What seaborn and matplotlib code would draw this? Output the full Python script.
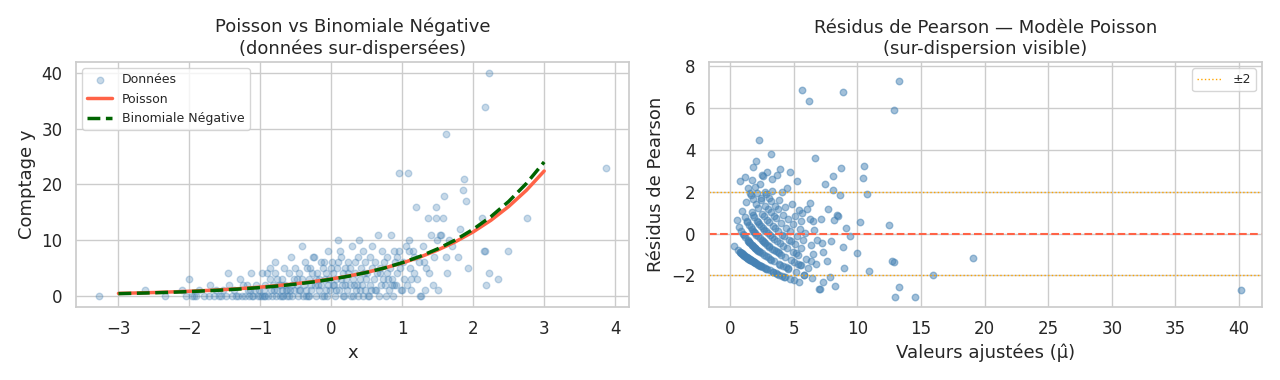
import numpy as np
import matplotlib
matplotlib.use("Agg")
import matplotlib.pyplot as plt
import seaborn as sns
import pandas as pd

x_obs = [-3.27, -2.62, -2.35, -2.11, -2.05, -2.01,
         -1.96, -1.93, -1.90, -1.86, -1.80,
         -1.72, -1.71, -1.66, -1.62, -1.58, -1.55, -1.52,
         -1.48, -1.45, -1.44, -1.40, -1.37, -1.35, -1.31, -1.28, -1.26,
         -1.24, -1.21, -1.19, -1.18, -1.16, -1.13, -1.12, -1.10, -1.08, -1.06, -1.04, -1.02, -1.01,
         -0.98, -0.97, -0.95, -0.94, -0.93, -0.90, -0.89, -0.87, -0.86, -0.85, -0.84, -0.82, -0.81, -0.80, -0.79, -0.78, -0.77, -0.76,
         -0.74, -0.72, -0.71, -0.70, -0.69, -0.68, -0.66, -0.65, -0.64, -0.63, -0.62, -0.60, -0.58, -0.57, -0.56, -0.55, -0.53, -0.52, -0.51,
         -0.49, -0.48, -0.47, -0.46, -0.44, -0.42, -0.41, -0.40, -0.38, -0.37, -0.36, -0.35, -0.34, -0.32, -0.31, -0.30, -0.29, -0.28, -0.27, -0.26,
         -0.24, -0.23, -0.22, -0.21, -0.20, -0.19, -0.18, -0.17, -0.15, -0.14, -0.12, -0.11, -0.10, -0.09, -0.08, -0.07, -0.06, -0.05, -0.04, -0.03, -0.02, -0.01,
         0.01, 0.02, 0.03, 0.04, 0.05, 0.06, 0.08, 0.09, 0.10, 0.11, 0.12, 0.13, 0.14, 0.15, 0.17, 0.18, 0.19, 0.20, 0.21, 0.22, 0.23, 0.24,
         0.26, 0.27, 0.29, 0.30, 0.31, 0.32, 0.33, 0.34, 0.35, 0.37, 0.38, 0.39, 0.40, 0.42, 0.43, 0.44, 0.45, 0.46, 0.47, 0.48, 0.49,
         0.51, 0.53, 0.54, 0.55, 0.56, 0.57, 0.58, 0.60, 0.61, 0.62, 0.64, 0.66, 0.67, 0.68, 0.69, 0.70, 0.71, 0.73, 0.74,
         0.76, 0.78, 0.79, 0.80, 0.81, 0.83, 0.84, 0.86, 0.87, 0.88, 0.90, 0.91, 0.92, 0.93, 0.95, 0.95, 0.97, 0.98,
         1.01, 1.03, 1.05, 1.06, 1.08, 1.09, 1.10, 1.11, 1.13, 1.15, 1.16, 1.17, 1.19, 1.21, 1.23,
         1.27, 1.29, 1.30, 1.32, 1.33, 1.36, 1.38, 1.41, 1.43, 1.45, 1.47, 1.48, 1.49,
         1.51, 1.53, 1.55, 1.57, 1.59, 1.61, 1.61, 1.63, 1.66, 1.70,
         1.79, 1.82, 1.86, 1.87, 1.90, 1.93,
         2.13, 2.15, 2.17, 2.17, 2.18, 2.22, 2.22,
         2.35, 2.49, 2.76, 3.87,
         -0.95, -0.70, -0.45, -0.33, -0.13, 0.07, 0.16, 0.28, 0.36, 0.52,
         0.63, 0.77, 0.85, 0.99, 1.12, 1.25, -1.14, -0.59, 0.41, 0.89]
y_obs = [0, 1, 0, 1, 0, 3,
         0, 0, 0, 1, 0,
         0, 2, 0, 1, 0, 0, 1,
         0, 4, 2, 0, 1, 0, 0, 3, 0,
         2, 0, 2, 1, 0, 4, 0, 0, 1, 2, 0, 1, 0,
         4, 0, 1, 0, 2, 4, 0, 3, 5, 1, 0, 2, 1, 6, 4, 0, 1, 3,
         2, 0, 2, 1, 3, 0, 5, 2, 1, 1, 0, 4, 1, 7, 2, 0, 3, 1, 5,
         2, 3, 0, 4, 1, 9, 3, 0, 2, 6, 0, 1, 5, 0, 3, 5, 2, 1, 4, 7,
         7, 2, 3, 0, 4, 2, 1, 3, 6, 2, 5, 0, 6, 3, 1, 4, 0, 2, 8, 3, 1, 5,
         6, 2, 4, 2, 0, 3, 5, 10, 6, 1, 8, 3, 7, 2, 4, 0, 5, 2, 3, 1, 6, 4,
         5, 2, 9, 3, 0, 2, 6, 4, 1, 7, 0, 10, 3, 5, 2, 8, 0, 4, 1, 6, 3,
         4, 0, 7, 2, 1, 5, 9, 3, 1, 6, 4, 11, 0, 5, 4, 2, 8, 3, 6,
         2, 7, 4, 3, 1, 5, 11, 3, 0, 8, 6, 2, 7, 4, 22, 8, 5, 1,
         6, 3, 9, 2, 22, 8, 10, 5, 1, 8, 4, 7, 16, 3, 6,
         0, 9, 6, 1, 5, 14, 4, 11, 2, 7, 14, 16, 10,
         1, 11, 11, 14, 18, 29, 7, 4, 10, 9,
         7, 12, 19, 21, 17, 5,
         14, 8, 8, 34, 2, 40, 4,
         3, 8, 14, 23,
         0, 0, 1, 0, 0, 1, 0, 0, 2, 0,
         1, 0, 2, 1, 3, 0, 1, 0, 1, 2]

# fitted curves
x_curve = [-3.0, -2.75, -2.5, -2.25, -2.0, -1.75, -1.5, -1.25, -1.0, -0.75, -0.5, -0.25, 0.0,
           0.25, 0.5, 0.75, 1.0, 1.25, 1.5, 1.75, 2.0, 2.25, 2.5, 2.75, 3.0]
poisson_curve = [0.40, 0.48, 0.56, 0.67, 0.79, 0.93, 1.10, 1.30, 1.54, 1.82, 2.15, 2.54, 3.00,
                 3.55, 4.20, 4.97, 5.87, 6.94, 8.21, 9.70, 11.47, 13.56, 16.04, 18.96, 22.42]
nb_curve = [0.36, 0.43, 0.51, 0.61, 0.73, 0.87, 1.03, 1.23, 1.46, 1.74, 2.08, 2.47, 2.95,
            3.51, 4.18, 4.98, 5.93, 7.06, 8.42, 10.02, 11.94, 14.22, 16.95, 20.19, 24.05]

# Poisson model coefficients (log link)
pois_b0 = 1.10
pois_b1 = 0.67

df = pd.DataFrame({"x": x_obs, "y": y_obs})
curves = pd.DataFrame({"x": x_curve, "Poisson": poisson_curve, "NB": nb_curve})

# fitted values and Pearson residuals of the Poisson model
df["mu"] = np.exp(pois_b0 + pois_b1 * df["x"])
df["resid"] = (df["y"] - df["mu"]) / np.sqrt(df["mu"])

sns.set_theme(style="whitegrid")
plt.rcParams["xtick.labelsize"] = 12
plt.rcParams["ytick.labelsize"] = 12
fig, axes = plt.subplots(1, 2, figsize=(12.8, 3.8), dpi=100)

ax = axes[0]
sns.scatterplot(data=df, x="x", y="y", ax=ax, color="steelblue", alpha=0.3, s=22,
                edgecolor="steelblue", linewidth=1, label="Données")
sns.lineplot(data=curves, x="x", y="Poisson", ax=ax, color="tomato", lw=2.5, label="Poisson")
sns.lineplot(data=curves, x="x", y="NB", ax=ax, color="darkgreen", lw=2.5, ls="--",
             label="Binomiale Négative")
ax.set_xlim(-3.6, 4.2)
ax.set_ylim(-2, 42)
ax.set_xlabel("x", fontsize=13)
ax.set_ylabel("Comptage y", fontsize=13)
ax.set_title("Poisson vs Binomiale Négative\n(données sur-dispersées)", fontsize=13)
ax.legend(loc="upper left", fontsize=9)

ax = axes[1]
sns.scatterplot(data=df, x="mu", y="resid", ax=ax, color="steelblue", alpha=0.5, s=22,
                edgecolor="steelblue", linewidth=1)
ax.axhline(0, color="tomato", ls="--", lw=1.5)
ax.axhline(2, color="orange", ls=":", lw=1, label="±2")
ax.axhline(-2, color="orange", ls=":", lw=1)
ax.set_xlim(-1.7, 41.8)
ax.set_ylim(-3.5, 8.2)
ax.set_xlabel("Valeurs ajustées (μ̂)", fontsize=13)
ax.set_ylabel("Résidus de Pearson", fontsize=13)
ax.set_title("Résidus de Pearson — Modèle Poisson\n(sur-dispersion visible)", fontsize=13)
ax.legend(loc="upper right", fontsize=9)

plt.tight_layout()
plt.savefig("out.png")
